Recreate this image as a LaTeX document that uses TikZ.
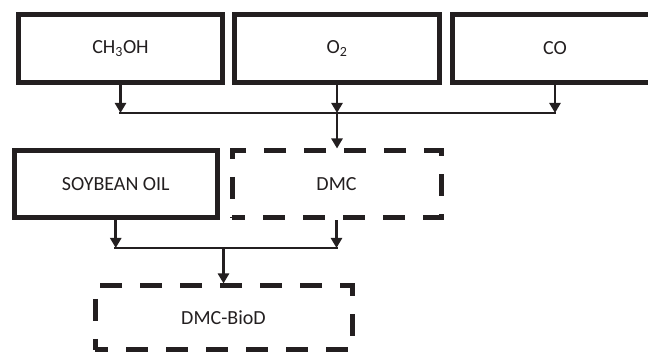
\documentclass[tikz,border=0pt]{standalone}
\usepackage{fontspec}
\setmainfont{Carlito}
\usetikzlibrary{
  arrows.meta,
  positioning
}
\definecolor{flowInk}{HTML}{231F20}
\tikzset{
  every node/.style={font=\fontsize{20}{24}\selectfont, text=flowInk},
  feed/.style={
    draw=flowInk,
    line width=5pt,
    fill=white,
    inner sep=4pt
  },
  product/.style={
    feed,
    dash pattern=on 22pt off 18pt,
    dash phase=9pt
  },
  link/.style={
    -{Triangle[length=10pt,width=11pt]},
    line width=2.7pt,
    draw=flowInk
  },
  bar/.style={
    line width=2.7pt,
    draw=flowInk,
    line cap=rect
  }
}

\begin{document}
\begin{tikzpicture}[x=1pt,y=1pt]
  \useasboundingbox (0,0) rectangle (648,355);

  % raw materials
  \node[feed, minimum width=204pt, minimum height=68pt] (methanol) at (120.5,306.5) {CH\textsubscript{3}OH};
  \node[feed, minimum width=205pt, minimum height=68pt] (oxygen) at (337,306.5) {O\textsubscript{2}};
  \node[feed, minimum width=205pt, minimum height=68pt] (carbmono) at (555,306.5) {CO};

  % second stage
  \node[feed, minimum width=203.5pt, minimum height=67pt] (soybean) at (115.75,171) {SOYBEAN OIL};
  \node[product, minimum width=209pt, minimum height=67pt] (dmc) at (336.5,170.5) {DMC};
  \node[product, minimum width=257pt, minimum height=64pt] (biod) at (223.5,37) {DMC-BioD};

  \coordinate (methanolfoot) at (methanol.south |- 0,242);
  \coordinate (oxygenfoot) at (oxygen.south |- 0,242);
  \coordinate (carbmonofoot) at (carbmono.south |- 0,242);
  \coordinate (soybeanfoot) at (soybean.south |- 0,107);
  \coordinate (dmcfoot) at (dmc.south |- 0,107);
  \coordinate (biodhead) at (biod.north |- 0,107);

  \draw[bar] (methanolfoot) -- (carbmonofoot);
  \draw[link] (methanol.south) -- (methanolfoot);
  \draw[link] (oxygen.south) -- (oxygenfoot);
  \draw[link] (carbmono.south) -- (carbmonofoot);
  \draw[link] (oxygenfoot) -- (oxygenfoot |- dmc.north);

  \draw[bar] (soybeanfoot) -- (dmcfoot);
  \draw[link] (soybean.south) -- (soybeanfoot);
  \draw[link] (dmc.south) -- (dmcfoot);
  \draw[link] (biodhead) -- (biod.north);
\end{tikzpicture}
\end{document}
